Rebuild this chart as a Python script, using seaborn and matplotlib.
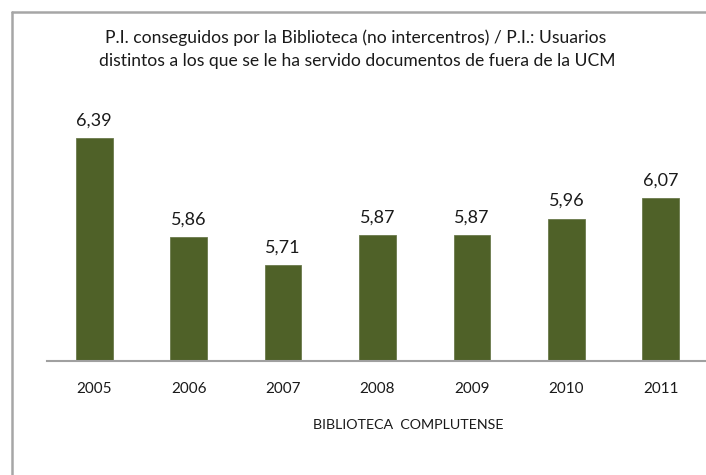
import matplotlib
matplotlib.use("Agg")
import matplotlib.pyplot as plt
from matplotlib.lines import Line2D
import seaborn as sns
import pandas as pd

# Data
years = ["2005", "2006", "2007", "2008", "2009", "2010", "2011"]
values = [6.39, 5.86, 5.71, 5.87, 5.87, 5.96, 6.07]
title_lines = [
    "P.I. conseguidos por la Biblioteca (no intercentros) / P.I.: Usuarios",
    "distintos a los que se le ha servido documentos de fuera de la UCM",
]
x_title = "BIBLIOTECA  COMPLUTENSE"

sns.set_theme(style="white")
plt.rcParams["font.family"] = ["Lato", "DejaVu Sans"]

W, H = 706, 475
fig = plt.figure(figsize=(W / 100, H / 100), dpi=100)
fig.patch.set_facecolor("white")

# axes placement in pixels
left_px, right_px = 47, 708
base_px, top_px = 361, 98.6
ax = fig.add_axes([left_px / W, 1 - base_px / H,
                   (right_px - left_px) / W, (base_px - top_px) / H])

df = pd.DataFrame({"year": years, "value": values})
bar_color = "#4F6128"
sns.barplot(data=df, x="year", y="value", color=bar_color, width=0.39,
            saturation=1, ax=ax, edgecolor="#6B7A4C", linewidth=0.6)

ax.set_ylim(5.2, 6.6)
ax.set_xlim(-0.5, len(years) - 0.5)

# value labels
for cont in ax.containers:
    ax.bar_label(cont, labels=[f"{v:.2f}".replace(".", ",") for v in values],
                 padding=7, fontsize=13, color="#1a1a1a")

# axes styling
for s in ["left", "right", "top"]:
    ax.spines[s].set_visible(False)
ax.spines["bottom"].set_color("#A0A0A0")
ax.spines["bottom"].set_linewidth(1.5)
ax.set_yticks([])
ax.set_ylabel("")
ax.set_xlabel("")
ax.tick_params(axis="x", length=0, pad=15, labelsize=11, labelcolor="#1a1a1a")

# axis title
fig.text(408 / W, 1 - 425 / H, x_title, ha="center", va="center",
         fontsize=10.3, color="#1a1a1a")

# chart title
fig.text(356 / W, 1 - 38 / H, title_lines[0], ha="center", va="center",
         fontsize=12.6, color="#1a1a1a")
fig.text(357.5 / W, 1 - 61 / H, title_lines[1], ha="center", va="center",
         fontsize=12.6, color="#1a1a1a")

# chart area border (left and top edges)
bx, by = 11.5 / W, 1 - 12 / H
fig.add_artist(Line2D([bx, bx], [0, by], transform=fig.transFigure,
                      color="#A6A6A6", linewidth=1.8))
fig.add_artist(Line2D([bx, 1], [by, by], transform=fig.transFigure,
                      color="#A6A6A6", linewidth=1.8))

fig.savefig("out.png", dpi=100, facecolor="white")
